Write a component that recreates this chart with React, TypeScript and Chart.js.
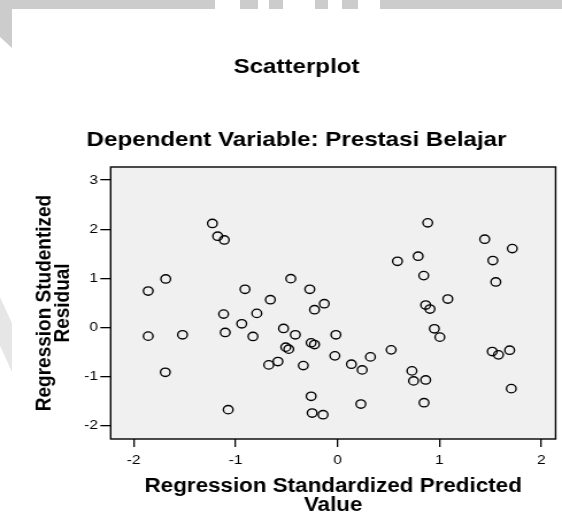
import React, { useEffect, useRef } from "react";
import { Chart, registerables } from "chart.js";

Chart.register(...registerables);

const chartTitle = "Scatterplot";
const chartSubtitle = "Dependent Variable: Prestasi Belajar";
const xAxisTitle = ["Regression Standardized Predicted", "Value"];
const yAxisTitle = ["Regression Studentized", "Residual"];

const xTicks = [-2, -1, 0, 1, 2];
const yTicks = [-2, -1, 0, 1, 2, 3];

// Regression standardized predicted values
const xValues = [
  -1.858, -1.858, -1.686, -1.69, -1.521, -1.228, -1.176, -1.111, -1.118, -1.102,
  -1.073, -0.94, -0.908, -0.83, -0.792, -0.675, -0.659, -0.585, -0.53, -0.508,
  -0.479, -0.459, -0.414, -0.336, -0.272, -0.259, -0.249, -0.259, -0.226, -0.226,
  -0.142, -0.13, -0.026, -0.016, 0.136, 0.229, 0.242, 0.323, 0.526, 0.588,
  0.73, 0.746, 0.791, 0.846, 0.849, 0.865, 0.865, 0.885, 0.907, 0.95,
  1.004, 1.082, 1.444, 1.518, 1.524, 1.553, 1.579, 1.689, 1.705, 1.715,
];

// Regression studentized residuals
const yValues = [
  0.741, -0.177, 0.986, -0.912, -0.15, 2.116, 1.857, 1.78, 0.272, -0.102,
  -1.673, 0.075, 0.776, -0.184, 0.286, -0.762, 0.565, -0.694, -0.02, -0.401,
  -0.442, 0.993, -0.15, -0.776, 0.776, -1.401, -1.741, -0.313, -0.347, 0.361,
  -1.776, 0.483, -0.578, -0.15, -0.748, -1.558, -0.864, -0.599, -0.456, 1.347,
  -0.884, -1.088, 1.449, 1.055, -1.531, 0.456, -1.068, 2.129, 0.374, -0.027,
  -0.197, 0.578, 1.796, -0.49, 1.361, 0.925, -0.558, -0.463, -1.245, 1.605,
];

const xMin = -2.226;
const xMax = 2.14;
const yMin = -2.27;
const yMax = 3.265;

const FONT = "'Liberation Sans', Arial, Helvetica, sans-serif";
const PAGE_W = 562;
const PAGE_H = 515;
const LOGICAL_W = 489;

const plotFrame = {
  id: "plotFrame",
  beforeDatasetsDraw(chart: any) {
    const { ctx, chartArea: a } = chart;
    ctx.save();
    ctx.fillStyle = "#f0f0f0";
    ctx.fillRect(a.left, a.top, a.right - a.left, a.bottom - a.top);
    ctx.restore();
  },
  afterDraw(chart: any) {
    const { ctx, chartArea: a } = chart;
    ctx.save();
    ctx.strokeStyle = "#000";
    ctx.lineWidth = 1.4;
    ctx.strokeRect(a.left, a.top, a.right - a.left, a.bottom - a.top);
    ctx.restore();
  },
};

export default function App() {
  const canvasRef = useRef<HTMLCanvasElement | null>(null);

  useEffect(() => {
    if (!canvasRef.current) return;
    const points = xValues.map((x, i) => ({ x, y: yValues[i] }));
    const chart = new Chart(canvasRef.current, {
      type: "scatter",
      data: {
        datasets: [
          {
            data: points,
            pointStyle: "circle",
            pointRadius: 4.2,
            pointHoverRadius: 4.2,
            borderWidth: 1.35,
            borderColor: "#000",
            backgroundColor: "rgba(0,0,0,0)",
          },
        ],
      },
      options: {
        responsive: false,
        animation: false,
        events: [],
        layout: { padding: { left: 28.5, right: 1.5, top: 0, bottom: 0 } },
        plugins: {
          legend: { display: false },
          tooltip: { enabled: false },
          title: {
            display: true,
            text: chartTitle,
            color: "#000",
            font: { family: FONT, size: 21, weight: "bold" },
            padding: { top: 54.9, bottom: 47.8 },
          },
          subtitle: {
            display: true,
            text: chartSubtitle,
            color: "#000",
            font: { family: FONT, size: 21, weight: "bold" },
            padding: { top: 0, bottom: 13.9 },
          },
        },
        scales: {
          x: {
            type: "linear",
            min: xMin,
            max: xMax,
            afterBuildTicks: (s: any) => {
              s.ticks = xTicks.map((v) => ({ value: v }));
            },
            afterFit: (s: any) => {
              s.height = 76;
            },
            border: { display: false },
            grid: {
              display: true,
              drawOnChartArea: false,
              drawTicks: true,
              tickLength: 8,
              color: "#000",
              lineWidth: 1.3,
            },
            ticks: {
              color: "#000",
              padding: 5,
              font: { family: FONT, size: 13.5 },
              callback: (v: any) => String(v),
            },
            title: {
              display: true,
              text: xAxisTitle,
              color: "#000",
              font: { family: FONT, size: 19.5, weight: "bold", lineHeight: "19px" },
              padding: { top: 0, bottom: 0 },
            },
          },
          y: {
            type: "linear",
            min: yMin,
            max: yMax,
            afterBuildTicks: (s: any) => {
              s.ticks = yTicks.map((v) => ({ value: v }));
            },
            afterFit: (s: any) => {
              s.width = 67.8;
            },
            border: { display: false },
            grid: {
              display: true,
              drawOnChartArea: false,
              drawTicks: true,
              tickLength: 9,
              color: "#000",
              lineWidth: 1.3,
            },
            ticks: {
              color: "#000",
              padding: 2,
              font: { family: FONT, size: 13.5 },
              callback: (v: any) => String(v),
            },
            title: {
              display: true,
              text: yAxisTitle,
              color: "#000",
              font: { family: FONT, size: 19, weight: "bold", lineHeight: "15.5px" },
              padding: { top: 2.8, bottom: 0 },
            },
          },
        },
      },
      plugins: [plotFrame],
    } as any);
    return () => chart.destroy();
  }, []);

  const gray = "#cccccc";
  const band = (l: number, w: number) => (
    <div
      style={{ position: "absolute", left: l, top: 0, width: w, height: 9, background: gray }}
    />
  );

  return (
    <div
      style={{
        position: "fixed",
        left: 0,
        top: 0,
        width: PAGE_W,
        height: PAGE_H,
        background: "#fff",
        overflow: "hidden",
      }}
    >
      <div
        style={{
          position: "absolute",
          left: 0,
          top: 0,
          width: LOGICAL_W,
          height: PAGE_H,
          transform: `scaleX(${PAGE_W / LOGICAL_W})`,
          transformOrigin: "0 0",
        }}
      >
        <canvas ref={canvasRef} width={LOGICAL_W} height={PAGE_H} />
      </div>
      {band(12, 203)}
      {band(240, 18)}
      {band(269, 14)}
      {band(315, 13)}
      {band(342, 16)}
      {band(380, 182)}
      <div
        style={{
          position: "absolute",
          left: 0,
          top: 0,
          width: 12,
          height: 48,
          background: gray,
          clipPath: "polygon(0 0, 100% 0, 100% 100%, 0 77%)",
        }}
      />
      <div
        style={{
          position: "absolute",
          left: 0,
          top: 297,
          width: 12,
          height: 75,
          background: "#e6e6e6",
          clipPath: "polygon(0 0, 100% 35%, 100% 100%, 0 65%)",
        }}
      />
    </div>
  );
}
